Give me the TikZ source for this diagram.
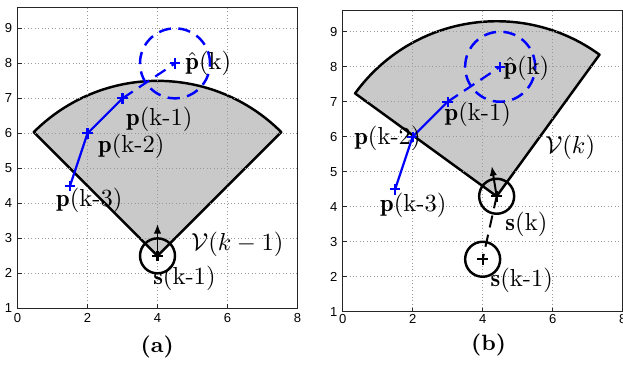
\documentclass[tikz,border=0pt]{standalone}
\usepackage{amsmath}
\usepackage{amssymb}
\usepackage{fontspec}
\newfontfamily\axisfont{Liberation Sans}
\usepackage{xcolor}
\definecolor{sectorgray}{gray}{0.79}
\definecolor{trackblue}{rgb}{0,0,1}
\usepackage{tikz}
\usetikzlibrary{arrows.meta}

\begin{document}
\begin{tikzpicture}[x=0.5cm, y=0.5cm,
  gridline/.style={gray!80, densely dotted, line width=0.4pt},
  axisbox/.style={black!85, line width=0.5pt},
  ticklabel/.style={font=\axisfont\fontsize{5.3}{6}\selectfont, inner sep=0pt},
  sector/.style={fill=sectorgray, draw=black, line width=1pt, line join=round},
  track/.style={trackblue, line width=0.9pt},
  predicted/.style={trackblue, line width=0.9pt, dash pattern=on 5pt off 3pt},
  gate/.style={trackblue, line width=1pt, dash pattern=on 5pt off 3pt},
  sensor/.style={black, line width=1pt},
  motion/.style={black, line width=0.8pt, dash pattern=on 5pt off 3pt},
  heading/.style={black, line width=0.8pt, -{Latex[length=4pt,width=3pt]}},
  lbl/.style={font=\fontsize{10}{12}\selectfont, inner sep=0pt},
  caption/.style={font=\fontsize{9}{10}\selectfont\bfseries, inner sep=0pt},
  pics/plusmark/.style={code={\draw[line width=0.9pt] (-0.15,0) -- (0.15,0) (0,-0.15) -- (0,0.15);}},
]
\useasboundingbox (0,0) rectangle (17.8,10.43);

% Panel (a)
\begin{scope}[shift={(0.5,0.62)}]
% Sensing sector
\coordinate (sa) at (4,2.5);
\draw[sector] (sa) -- ++(45:5) arc[start angle=45, end angle=135, radius=5] -- cycle;
% Grid and box
\foreach \gx in {2,4,6} \draw[gridline] (\gx,1) -- (\gx,9.6);
\foreach \gy in {2,...,9} \draw[gridline] (0,\gy) -- (8,\gy);
\draw[axisbox] (0,1) rectangle (8,9.6);
\foreach \gx in {0,2,...,8} {
  \draw[axisbox] (\gx,1) -- (\gx,1.12);
  \node[ticklabel, anchor=north] (xa\gx) at (\gx,0.86) {\gx};
}
\foreach \gy in {1,...,9} {
  \draw[axisbox] (0,\gy) -- (0.12,\gy);
  \node[ticklabel, anchor=east] (ya\gy) at (-0.14,\gy) {\gy};
}
% Target track
\coordinate (pa3) at (1.5,4.5);
\coordinate (pa2) at (2,6);
\coordinate (pa1) at (3,7);
\coordinate (pak) at (4.5,8);
\draw[track] (pa3) -- (pa2) -- (pa1);
\draw[predicted] (pa1) -- (pak);
\draw[gate] (pak) circle (1);
\foreach \pt in {pa3,pa2,pa1,pak} \pic[trackblue] at (\pt) {plusmark};
% Sensor
\coordinate (ha) at (4,3.42);
\draw[sensor] (sa) circle (0.5);
\pic at (sa) {plusmark};
\draw[heading] (sa) -- (ha);
% Labels
\node[lbl] (lpak) at (5.45,8.0) {$\hat{\mathbf{p}}$(k)};
\node[lbl] (lpa1) at (4.05,6.4) {$\mathbf{p}$(k-1)};
\node[lbl] (lpa2) at (3.25,5.64) {$\mathbf{p}$(k-2)};
\node[lbl] (lpa3) at (2.05,4.1) {$\mathbf{p}$(k-3)};
\node[lbl] (lva) at (6.28,2.84) {$\mathcal{V}(k-1)$};
\node[lbl] (lsa) at (4.77,1.85) {$\mathbf{s}$(k-1)};
\node[caption] (capa) at (3.99,-0.1) {(a)};
\end{scope}

% Panel (b)
\begin{scope}[shift={(9.79,0.523)}]
% Sensing sector
\coordinate (sb0) at (4,2.5);
\coordinate (sb) at (4.4,4.3);
\draw[sector] (sb) -- ++(54:5) arc[start angle=54, end angle=144, radius=5] -- cycle;
% Grid and box
\foreach \gx in {2,4,6} \draw[gridline] (\gx,1) -- (\gx,9.6);
\foreach \gy in {2,...,9} \draw[gridline] (0,\gy) -- (8,\gy);
\draw[axisbox] (0,1) rectangle (8,9.6);
\foreach \gx in {0,2,...,8} {
  \draw[axisbox] (\gx,1) -- (\gx,1.12);
  \node[ticklabel, anchor=north] (xb\gx) at (\gx,0.93) {\gx};
}
\foreach \gy in {1,...,9} {
  \draw[axisbox] (0,\gy) -- (0.12,\gy);
  \node[ticklabel, anchor=east] (yb\gy) at (-0.14,\gy) {\gy};
}
% Target track
\coordinate (pb3) at (1.5,4.5);
\coordinate (pb2) at (2,6);
\coordinate (pb1) at (3,7);
\coordinate (pbk) at (4.5,8);
\draw[track] (pb3) -- (pb2) -- (pb1);
\draw[predicted] (pb1) -- (pbk);
\draw[gate] (pbk) circle (1);
\foreach \pt in {pb3,pb2,pb1,pbk} \pic[trackblue] at (\pt) {plusmark};
% Sensor move
\coordinate (hb) at (4.26,5.17);
\draw[motion] (sb) -- (sb0);
\draw[sensor] (sb0) circle (0.5);
\pic at (sb0) {plusmark};
\draw[sensor] (sb) circle (0.5);
\pic at (sb) {plusmark};
\draw[heading] (sb) -- (hb);
% Labels
\node[lbl] (lpbk) at (5.25,7.95) {$\hat{\mathbf{p}}$(k)};
\node[lbl] (lpb1) at (3.86,6.64) {$\mathbf{p}$(k-1)};
\node[lbl] (lpb2) at (1.28,5.96) {$\mathbf{p}$(k-2)};
\node[lbl] (lpb3) at (2.02,4.03) {$\mathbf{p}$(k-3)};
\node[lbl] (lvb) at (6.5,5.7) {$\mathcal{V}(k)$};
\node[lbl] (lsb) at (5.25,3.5) {$\mathbf{s}$(k)};
\node[lbl] (lsb0) at (5.12,1.9) {$\mathbf{s}$(k-1)};
\node[caption] (capb) at (4.17,0.05) {(b)};
\end{scope}
\end{tikzpicture}
\end{document}
